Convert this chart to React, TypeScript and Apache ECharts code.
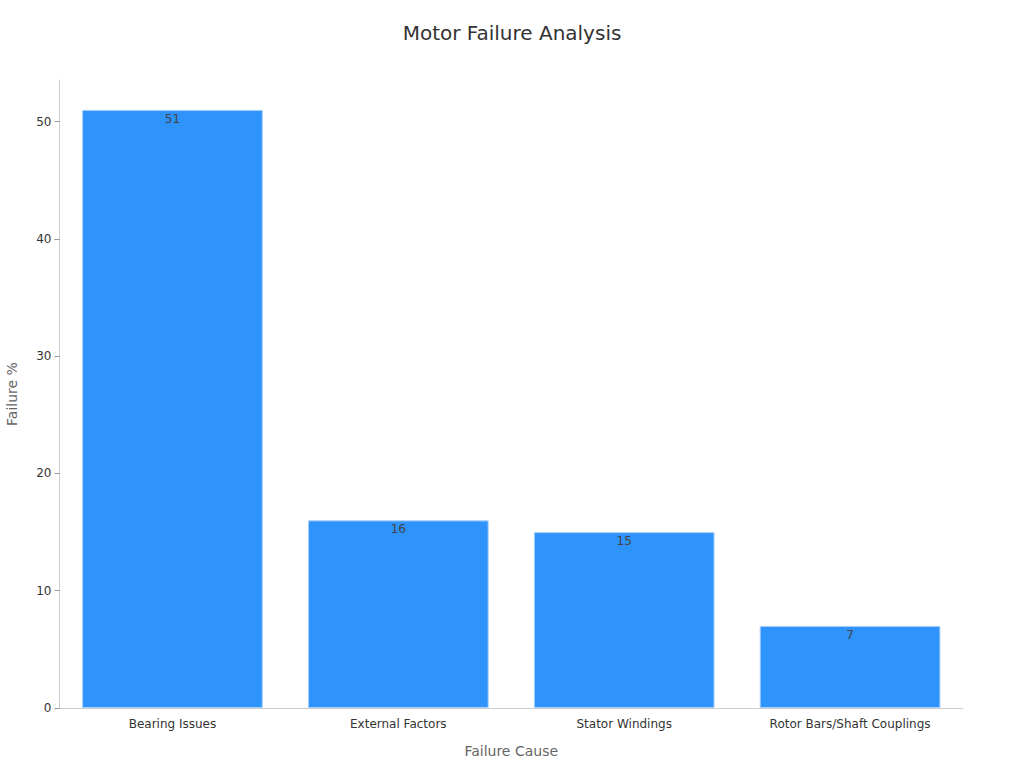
import React, { useEffect, useRef } from 'react';
import * as echarts from 'echarts';

const causes = ['Bearing Issues', 'External Factors', 'Stator Windings', 'Rotor Bars/Shaft Couplings'];
const failurePct = [51, 16, 15, 7];

const FONT = '"DejaVu Sans", sans-serif';

const App: React.FC = () => {
  const chartRef = useRef<HTMLDivElement | null>(null);

  useEffect(() => {
    if (!chartRef.current) return;
    const chart = echarts.init(chartRef.current, null, { renderer: 'svg' });

    chart.setOption({
      animation: false,
      textStyle: { fontFamily: FONT },
      title: {
        text: 'Motor Failure Analysis',
        left: 'center',
        top: 18,
        textStyle: { fontFamily: FONT, fontSize: 20, fontWeight: 'normal', color: '#333' },
      },
      grid: { left: 59.5, right: 61, top: 80, bottom: 60, outerBoundsMode: 'none', containLabel: false },
      xAxis: {
        type: 'category',
        data: causes,
        name: 'Failure Cause',
        nameLocation: 'middle',
        nameGap: 36,
        nameTextStyle: { fontFamily: FONT, fontSize: 14, color: '#666' },
        axisLine: { lineStyle: { color: '#ccc' } },
        axisTick: { alignWithLabel: true, lineStyle: { color: '#999' } },
        axisLabel: { fontFamily: FONT, fontSize: 12, color: '#333', margin: 10 },
      },
      yAxis: {
        type: 'value',
        min: 0,
        max: (v: { max: number }) => v.max * 1.05,
        interval: 10,
        name: 'Failure %',
        nameLocation: 'middle',
        nameGap: 41,
        nameTextStyle: { fontFamily: FONT, fontSize: 14, color: '#666' },
        axisLine: { show: true, lineStyle: { color: '#ccc' } },
        axisTick: { show: true, lineStyle: { color: '#999' } },
        splitLine: { show: false },
        axisLabel: {
          fontFamily: FONT,
          fontSize: 12,
          color: '#333',
          showMaxLabel: false,
        },
      },
      series: [
        {
          type: 'bar',
          data: failurePct,
          barWidth: '80%',
          itemStyle: { color: '#2e93fa', borderColor: '#a8d0fb', borderWidth: 1 },
          label: {
            show: true,
            position: 'insideTop',
            distance: 3,
            fontFamily: FONT,
            fontSize: 12,
            color: '#444',
          },
        },
      ],
    });

    return () => {
      chart.dispose();
    };
  }, []);

  return (
    <div
      ref={chartRef}
      style={{ position: 'absolute', left: 0, top: 0, width: 1024, height: 768 }}
    />
  );
};

export default App;
